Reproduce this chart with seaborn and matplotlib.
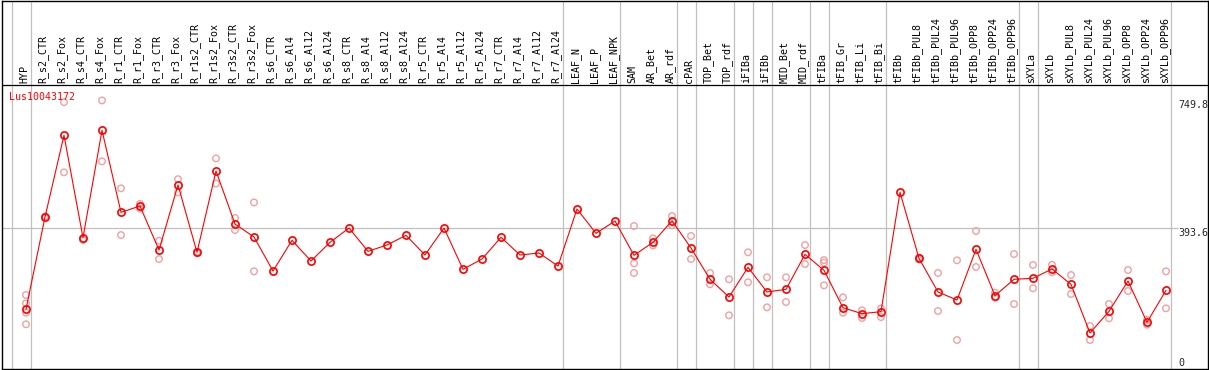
import matplotlib
matplotlib.use("Agg")
import matplotlib.pyplot as plt
import seaborn as sns
import pandas as pd

# conditions (column labels along the top)
conditions = [
    "HYP", "R_s2_CTR", "R_s2_Fox", "R_s4_CTR", "R_s4_Fox", "R_r1_CTR", "R_r1_Fox",
    "R_r3_CTR", "R_r3_Fox", "R_r1s2_CTR", "R_r1s2_Fox", "R_r3s2_CTR", "R_r3s2_Fox",
    "R_s6_CTR", "R_s6_Al4", "R_s6_Al12", "R_s6_Al24", "R_s8_CTR", "R_s8_Al4",
    "R_s8_Al12", "R_s8_Al24", "R_r5_CTR", "R_r5_Al4", "R_r5_Al12", "R_r5_Al24",
    "R_r7_CTR", "R_r7_Al4", "R_r7_Al12", "R_r7_Al24", "LEAF_N", "LEAF_P", "LEAF_NPK",
    "SAM", "AR_Bet", "AR_rdf", "cPAR", "TOP_Bet", "TOP_rdf", "iFIBa", "iFIBb",
    "MID_Bet", "MID_rdf", "tFIBa", "tFIB_Gr", "tFIB_Li", "tFIB_Bi", "tFIBb",
    "tFIBb_PUL8", "tFIBb_PUL24", "tFIBb_PUL96", "tFIBb_OPP8", "tFIBb_OPP24",
    "tFIBb_OPP96", "sXYLa", "sXYLb", "sXYLb_PUL8", "sXYLb_PUL24", "sXYLb_PUL96",
    "sXYLb_OPP8", "sXYLb_OPP24", "sXYLb_OPP96",
]

# mean expression per condition
means = [
    166.6, 424.3, 652.4, 366.6, 666.3, 437.4, 455.0, 332.0, 513.7, 325.7, 552.8,
    404.8, 368.5, 273.6, 359.2, 301.5, 353.6, 393.6, 328.5, 346.2, 373.2, 318.3,
    393.6, 278.3, 307.1, 367.6, 318.3, 323.8, 287.5, 446.7, 378.8, 413.2, 317.4,
    353.6, 414.0, 337.8, 250.4, 201.0, 283.9, 215.0, 222.4, 320.1, 275.5, 171.2,
    154.5, 160.0, 493.2, 308.9, 215.0, 192.6, 334.1, 204.7, 250.4, 253.2, 279.2,
    236.4, 100.5, 161.0, 245.7, 130.3, 219.6,
]

# replicate values per condition (empty where only the mean is shown)
replicates = [
    [206.6, 183.4, 157.2, 124.8], [426.0, 422.0], [745.0, 549.0], [362.0, 360.0],
    [749.8, 579.8], [504.4, 374.0], [461.0, 448.0], [358.0, 307.0], [530.0, 493.0],
    [327.0, 323.0], [588.0, 518.0], [421.6, 388.0], [465.0, 272.7],
    [], [], [], [], [], [], [], [], [], [], [], [], [], [], [], [], [], [], [],
    [399.2, 295.0, 268.0], [364.8, 345.0], [427.0, 401.0], [371.3, 307.0],
    [268.0, 236.4], [250.4, 149.9], [325.7, 242.0], [256.0, 172.2], [256.0, 187.0],
    [346.0, 293.0], [304.0, 297.0, 233.6], [200.0, 157.0], [164.0, 142.4],
    [169.0, 145.0], [], [311.0, 306.0], [268.0, 161.9], [303.4, 81.0],
    [385.3, 284.8], [213.0, 199.0], [321.0, 181.5], [290.3, 225.3], [291.0, 270.0],
    [262.4, 209.4], [120.0, 81.0], [181.5, 141.5], [276.4, 217.8], [137.0, 124.0],
    [272.7, 169.4],
]

# last condition of each tissue group (vertical separators)
group_ends = [-1, 0, 28, 31, 34, 35, 37, 38, 39, 41, 42, 45, 52, 53, 60]

gene = "Lus10043172"
y_ticks = [749.8, 393.6, 0]

mean_df = pd.DataFrame({"pos": range(len(conditions)), "value": means})
rep_df = pd.DataFrame(
    [(i, v) for i, reps in enumerate(replicates) for v in reps],
    columns=["pos", "value"],
)

sns.set_style("white")
plt.rcParams["font.family"] = ["DejaVu Sans Mono", "DejaVu Sans"]

fig = plt.figure(figsize=(12.09, 3.70), dpi=100)
W, H = 1209, 370
ax = fig.add_axes([1.5 / W, 1 / H, 1206.5 / W, 368.5 / H])

# pixel-matched scales: 19 px per condition, 0.3582 px per unit
ax.set_xlim((1.5 - 26) / 19, (1208 - 26) / 19)
ax.set_ylim(0, 368.5 / 0.3582)

grid_c = "#c0c0c0"
for g in group_ends:
    ax.axvline(g + 0.24, color=grid_c, lw=0.9, zorder=1)
ax.hlines(393.6, ax.get_xlim()[0], 60.63, color=grid_c, lw=0.9, zorder=1)
header_y = (369 - 85) / 0.3582
ax.axhline(header_y, color="black", lw=0.9, zorder=2)

sns.scatterplot(data=rep_df, x="pos", y="value", ax=ax, marker="o", s=22,
                color="#f0a0a0", linewidth=1.0, zorder=3, legend=False)
ax.collections[-1].set_facecolor("none")
ax.collections[-1].set_edgecolor("#f0a0a0")

sns.lineplot(data=mean_df, x="pos", y="value", ax=ax, color="red", lw=0.8,
             marker="o", markersize=5.2, markerfacecolor="none",
             markeredgecolor="red", markeredgewidth=1.2, zorder=4)

for i, name in enumerate(conditions):
    ax.text(i - 0.1, 797.5, name, rotation=90, ha="center", va="bottom",
            fontsize=7.2, color="black")

ax.text((9.3 - 26) / 19, (369 - 96.7) / 0.3582, gene, color="red",
        fontsize=7.2, ha="left", va="center")

tx = (1178.5 - 26) / 19
ax.text(tx, 749.8, f"{y_ticks[0]}", fontsize=7.2, ha="left", va="top")
ax.text(tx, 393.6, f"{y_ticks[1]}", fontsize=7.2, ha="left", va="top")
ax.text(tx, 17.6, f"{y_ticks[2]}", fontsize=7.2, ha="left", va="center")

ax.set_xticks([])
ax.set_yticks([])
ax.set_xlabel("")
ax.set_ylabel("")
for s in ax.spines.values():
    s.set_color("black")
    s.set_linewidth(1.0)

fig.savefig("out.png", dpi=100)
